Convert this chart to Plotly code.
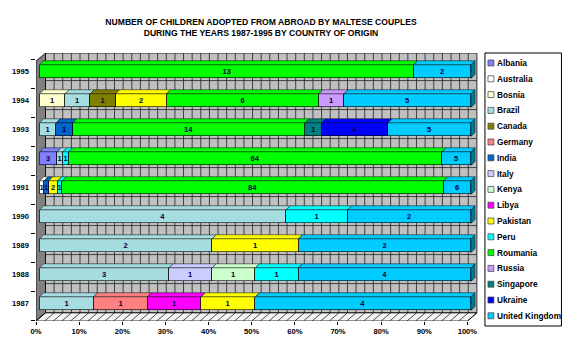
import plotly.graph_objects as go

# Adoptions per year (index 0 = 1987 ... 8 = 1995), one list per country of origin
years = ["1987", "1988", "1989", "1990", "1991", "1992", "1993", "1994", "1995"]

albania   = [0, 0, 0, 0, 0, 3, 0, 0, 0]
australia = [0, 0, 0, 0, 1, 0, 0, 0, 0]
bosnia    = [0, 0, 0, 0, 0, 0, 0, 1, 0]
brazil    = [1, 3, 2, 4, 0, 1, 1, 1, 0]
canada    = [0, 0, 0, 0, 0, 0, 0, 1, 0]
germany   = [1, 0, 0, 0, 0, 0, 0, 0, 0]
india     = [0, 0, 0, 0, 1, 0, 1, 0, 0]
italy     = [0, 1, 0, 0, 0, 0, 0, 0, 0]
kenya     = [0, 1, 0, 0, 0, 0, 0, 0, 0]
libya     = [1, 0, 0, 0, 0, 0, 0, 0, 0]
pakistan  = [1, 0, 1, 0, 2, 0, 0, 2, 0]
peru      = [0, 1, 0, 1, 1, 1, 0, 0, 0]
roumania  = [0, 0, 0, 0, 84, 64, 14, 6, 13]
russia    = [0, 0, 0, 0, 0, 0, 0, 1, 0]
singapore = [0, 0, 0, 0, 0, 0, 1, 0, 0]
ukraine   = [0, 0, 0, 0, 0, 0, 4, 0, 0]
united_kingdom = [4, 4, 2, 2, 6, 5, 5, 5, 2]

countries = ["Albania", "Australia", "Bosnia", "Brazil", "Canada", "Germany", "India",
             "Italy", "Kenya", "Libya", "Pakistan", "Peru", "Roumania", "Russia",
             "Singapore", "Ukraine", "United Kingdom"]
series = [albania, australia, bosnia, brazil, canada, germany, india, italy, kenya, libya,
          pakistan, peru, roumania, russia, singapore, ukraine, united_kingdom]
colors = ["#8080FF", "#FFFFFF", "#FFFFCC", "#A6DDE0", "#808000", "#FF8080", "#0066CC",
          "#CCCCFF", "#CCFFCC", "#FF00FF", "#FFFF00", "#00FFFF", "#00FF00", "#CC99FF",
          "#008080", "#0000FF", "#00CCFF"]

x_ticks = list(range(0, 101, 10))

FONT = "Arial"
BAR_W = 0.47

# figure geometry (pixels)
W_FIG, H_FIG = 565, 348
L, T, PW, PH = 33, 53, 447, 268
PX_PER_PCT = 4.343
PX_PER_CAT = 29.0

# 3D depth offsets in data units
FRONT_DX = -0.85            # front edge of the floor / axes
WALL_DX = 1.35              # back wall
WALL_DY = 0.28
TOP_DX = 4 / PX_PER_PCT     # bar depth
TOP_DY = 4 / PX_PER_CAT
Y_MIN = -0.6
Y_MAX = Y_MIN + PH / PX_PER_CAT
X_MAX = FRONT_DX + PW / PX_PER_PCT


def darker(hex_col, f=0.6):
    h = hex_col.lstrip("#")
    r, g, b = (int(h[i:i + 2], 16) for i in (0, 2, 4))
    return "#%02X%02X%02X" % (int(r * f), int(g * f), int(b * f))


def px_to_paper(px, py):
    return (px - L) / PW, (T + PH - py) / PH


fig = go.Figure()
ypos = list(range(len(years)))
for name, vals, col in zip(countries, series, colors):
    fig.add_trace(go.Bar(
        y=ypos, x=[v if v else None for v in vals], orientation="h", name=name,
        width=BAR_W,
        marker=dict(color=col, line=dict(color="#000000", width=0.6)),
        text=[str(v) if v else "" for v in vals],
        textposition="inside", insidetextanchor="middle", textangle=0,
        constraintext="none",
        textfont=dict(family=FONT, size=7.5, color="#00003A", weight="bold"),
        showlegend=False,
        hovertemplate=name + ": %{text}<extra></extra>",
    ))

shapes = []

# back wall, side wall and floor
wall_y0 = Y_MIN + WALL_DY
shapes.append(dict(type="rect", xref="x", yref="y", layer="below",
                   x0=WALL_DX, x1=100 + WALL_DX, y0=wall_y0, y1=Y_MAX,
                   fillcolor="#C0C0C0", line=dict(color="#000000", width=0.8)))
for p in range(2, 100, 2):
    shapes.append(dict(type="line", xref="x", yref="y", layer="below",
                       x0=p + WALL_DX, x1=p + WALL_DX, y0=wall_y0, y1=Y_MAX,
                       line=dict(color="#202020", width=0.8)))
for i in range(len(years) - 1):
    yb = i + 0.5 - 0.09 + WALL_DY
    shapes.append(dict(type="line", xref="x", yref="y", layer="below",
                       x0=WALL_DX, x1=100 + WALL_DX, y0=yb, y1=yb,
                       line=dict(color="#202020", width=0.8)))
shapes.append(dict(type="path", xref="x", yref="y", layer="below",
                   path=f"M {FRONT_DX},{Y_MIN} L {WALL_DX},{wall_y0} L {WALL_DX},{Y_MAX} "
                        f"L {FRONT_DX},{Y_MAX - WALL_DY} Z",
                   fillcolor="#808080", line=dict(color="#000000", width=0.8)))
shapes.append(dict(type="path", xref="x", yref="y", layer="below",
                   path=f"M {FRONT_DX},{Y_MIN} L {100 + FRONT_DX},{Y_MIN} "
                        f"L {100 + WALL_DX},{wall_y0} L {WALL_DX},{wall_y0} Z",
                   fillcolor="#F4F4F4", line=dict(color="#000000", width=0.8)))
for p in range(0, 101, 2):
    shapes.append(dict(type="line", xref="x", yref="y", layer="below",
                       x0=p + FRONT_DX, y0=Y_MIN, x1=p + WALL_DX, y1=wall_y0,
                       line=dict(color="#000000", width=0.7)))

# top and side faces of each stacked bar
totals = [sum(s[i] for s in series) for i in range(len(years))]
for i in range(len(years)):
    cum = 0
    yt = i + BAR_W / 2
    yb = i - BAR_W / 2
    last_col = None
    for vals, col in zip(series, colors):
        v = vals[i]
        if not v:
            continue
        x0 = cum / totals[i] * 100
        x1 = (cum + v) / totals[i] * 100
        cum += v
        last_col = col
        shapes.append(dict(type="path", xref="x", yref="y", layer="above",
                           path=f"M {x0},{yt} L {x0 + TOP_DX},{yt + TOP_DY} "
                                f"L {x1 + TOP_DX},{yt + TOP_DY} L {x1},{yt} Z",
                           fillcolor=col, line=dict(color="#000000", width=0.5)))
    shapes.append(dict(type="path", xref="x", yref="y", layer="above",
                       path=f"M 100,{yb} L 100,{yt} L {100 + TOP_DX},{yt + TOP_DY} "
                            f"L {100 + TOP_DX},{yb + TOP_DY} Z",
                       fillcolor=darker(last_col), line=dict(color="#000000", width=0.5)))

# legend box
annotations = []
bx0, by0 = px_to_paper(485, 53)
bx1, by1 = px_to_paper(562, 326)
shapes.append(dict(type="rect", xref="paper", yref="paper", x0=bx0, x1=bx1, y0=by1, y1=by0,
                   fillcolor="#FFFFFF", line=dict(color="#000000", width=1)))
for k, (name, col) in enumerate(zip(countries, colors)):
    cy = 63 + 15.8 * k
    sx0, sy0 = px_to_paper(488, cy - 3)
    sx1, sy1 = px_to_paper(494, cy + 3)
    shapes.append(dict(type="rect", xref="paper", yref="paper", x0=sx0, x1=sx1, y0=sy1, y1=sy0,
                       fillcolor=col, line=dict(color="#404040", width=0.7)))
    tx, ty = px_to_paper(495.5, cy)
    annotations.append(dict(xref="paper", yref="paper", x=tx, y=ty, text=name,
                            xanchor="left", yanchor="middle", showarrow=False,
                            font=dict(family=FONT, size=8.3, color="#000000", weight="bold")))

fig.update_layout(
    width=W_FIG, height=H_FIG,
    margin=dict(l=L, r=W_FIG - L - PW, t=T, b=H_FIG - T - PH, pad=0),
    paper_bgcolor="#FFFFFF", plot_bgcolor="#FFFFFF",
    barmode="stack", barnorm="percent", bargap=0,
    title=dict(text="NUMBER OF CHILDREN ADOPTED FROM ABROAD BY MALTESE COUPLES<br>"
                    "DURING THE YEARS 1987-1995 BY COUNTRY OF ORIGIN",
               x=261 / W_FIG, xanchor="center", xref="container",
               y=1 - 25 / H_FIG, yanchor="middle", yref="container",
               font=dict(family=FONT, size=8.6, color="#000000", weight="bold")),
    xaxis=dict(range=[FRONT_DX, X_MAX], showgrid=False, zeroline=False,
               showline=False,
               tickvals=[p + FRONT_DX for p in x_ticks],
               ticktext=[f"{p}%" for p in x_ticks],
               ticks="outside", ticklen=3, tickcolor="#000000", tickwidth=1,
               tickfont=dict(family=FONT, size=7.6, color="#000000", weight="bold")),
    yaxis=dict(range=[Y_MIN, Y_MAX], showgrid=False, zeroline=False, showline=False,
               tickvals=ypos, ticktext=years, ticks="", ticklabelstandoff=6,
               tickfont=dict(family=FONT, size=7.6, color="#000000", weight="bold"),
               minor=dict(tick0=0.41, dtick=1, ticks="outside", ticklen=4,
                          tickcolor="#000000", tickwidth=1)),
    shapes=shapes,
    annotations=annotations,
    showlegend=False,
)

fig.write_html("out.html")
